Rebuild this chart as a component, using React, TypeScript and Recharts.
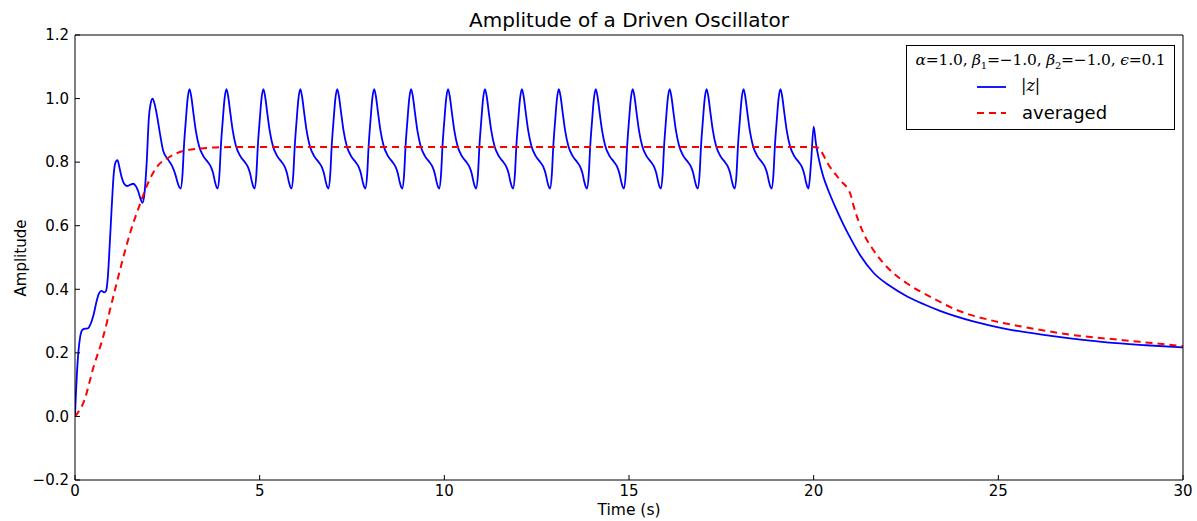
import React from 'react';
import { LineChart, Line, XAxis, YAxis } from 'recharts';

const TITLE = 'Amplitude of a Driven Oscillator';
const X_LABEL = 'Time (s)';
const Y_LABEL = 'Amplitude';
const X_TICKS = [0, 5, 10, 15, 20, 25, 30];
const Y_TICKS = [-0.2, 0, 0.2, 0.4, 0.6, 0.8, 1.0, 1.2];

// |z| : transient start (t, value)
const BLUE_START: [number, number][] = [
  [0, 0], [0.02, 0.06], [0.05, 0.13], [0.09, 0.2], [0.14, 0.25], [0.2, 0.272], [0.27, 0.276], [0.35, 0.277],
  [0.42, 0.29], [0.5, 0.318], [0.58, 0.36], [0.65, 0.387], [0.72, 0.395], [0.79, 0.39], [0.84, 0.395],
  [0.89, 0.44], [0.94, 0.54], [0.99, 0.65], [1.05, 0.765], [1.1, 0.8], [1.15, 0.806], [1.2, 0.785],
  [1.26, 0.754], [1.33, 0.732], [1.41, 0.725], [1.5, 0.729], [1.57, 0.732], [1.64, 0.726], [1.7, 0.712],
  [1.76, 0.69], [1.83, 0.672], [1.88, 0.7], [1.94, 0.796], [2.0, 0.94], [2.05, 0.985], [2.1, 1.0],
  [2.15, 0.985], [2.21, 0.953], [2.3, 0.89], [2.39, 0.835], [2.52, 0.808], [2.64, 0.785], [2.72, 0.76],
  [2.78, 0.735], [2.82, 0.722], [2.86, 0.717], [2.91, 0.76], [2.95, 0.85],
];

// |z| : steady driven oscillation
const BLUE_STEADY: [number, number][] = [
  [3.0, 0.93], [3.05, 1.0], [3.1, 1.03], [3.15, 1.005], [3.2, 0.96], [3.27, 0.9], [3.36, 0.85], [3.48, 0.818], [3.6, 0.8], [3.68, 0.785], [3.74, 0.765], [3.79, 0.738], [3.83, 0.722], [3.86, 0.717], [3.91, 0.76], [3.95, 0.85],
  [4.0, 0.93], [4.05, 1.0], [4.1, 1.03], [4.15, 1.005], [4.2, 0.96], [4.27, 0.9], [4.36, 0.85], [4.48, 0.818], [4.6, 0.8], [4.68, 0.785], [4.74, 0.765], [4.79, 0.738], [4.83, 0.722], [4.86, 0.717], [4.91, 0.76], [4.95, 0.85],
  [5.0, 0.93], [5.05, 1.0], [5.1, 1.03], [5.15, 1.005], [5.2, 0.96], [5.27, 0.9], [5.36, 0.85], [5.48, 0.818], [5.6, 0.8], [5.68, 0.785], [5.74, 0.765], [5.79, 0.738], [5.83, 0.722], [5.86, 0.717], [5.91, 0.76], [5.95, 0.85],
  [6.0, 0.93], [6.05, 1.0], [6.1, 1.03], [6.15, 1.005], [6.2, 0.96], [6.27, 0.9], [6.36, 0.85], [6.48, 0.818], [6.6, 0.8], [6.68, 0.785], [6.74, 0.765], [6.79, 0.738], [6.83, 0.722], [6.86, 0.717], [6.91, 0.76], [6.95, 0.85],
  [7.0, 0.93], [7.05, 1.0], [7.1, 1.03], [7.15, 1.005], [7.2, 0.96], [7.27, 0.9], [7.36, 0.85], [7.48, 0.818], [7.6, 0.8], [7.68, 0.785], [7.74, 0.765], [7.79, 0.738], [7.83, 0.722], [7.86, 0.717], [7.91, 0.76], [7.95, 0.85],
  [8.0, 0.93], [8.05, 1.0], [8.1, 1.03], [8.15, 1.005], [8.2, 0.96], [8.27, 0.9], [8.36, 0.85], [8.48, 0.818], [8.6, 0.8], [8.68, 0.785], [8.74, 0.765], [8.79, 0.738], [8.83, 0.722], [8.86, 0.717], [8.91, 0.76], [8.95, 0.85],
  [9.0, 0.93], [9.05, 1.0], [9.1, 1.03], [9.15, 1.005], [9.2, 0.96], [9.27, 0.9], [9.36, 0.85], [9.48, 0.818], [9.6, 0.8], [9.68, 0.785], [9.74, 0.765], [9.79, 0.738], [9.83, 0.722], [9.86, 0.717], [9.91, 0.76], [9.95, 0.85],
  [10.0, 0.93], [10.05, 1.0], [10.1, 1.03], [10.15, 1.005], [10.2, 0.96], [10.27, 0.9], [10.36, 0.85], [10.48, 0.818], [10.6, 0.8], [10.68, 0.785], [10.74, 0.765], [10.79, 0.738], [10.83, 0.722], [10.86, 0.717], [10.91, 0.76], [10.95, 0.85],
  [11.0, 0.93], [11.05, 1.0], [11.1, 1.03], [11.15, 1.005], [11.2, 0.96], [11.27, 0.9], [11.36, 0.85], [11.48, 0.818], [11.6, 0.8], [11.68, 0.785], [11.74, 0.765], [11.79, 0.738], [11.83, 0.722], [11.86, 0.717], [11.91, 0.76], [11.95, 0.85],
  [12.0, 0.93], [12.05, 1.0], [12.1, 1.03], [12.15, 1.005], [12.2, 0.96], [12.27, 0.9], [12.36, 0.85], [12.48, 0.818], [12.6, 0.8], [12.68, 0.785], [12.74, 0.765], [12.79, 0.738], [12.83, 0.722], [12.86, 0.717], [12.91, 0.76], [12.95, 0.85],
  [13.0, 0.93], [13.05, 1.0], [13.1, 1.03], [13.15, 1.005], [13.2, 0.96], [13.27, 0.9], [13.36, 0.85], [13.48, 0.818], [13.6, 0.8], [13.68, 0.785], [13.74, 0.765], [13.79, 0.738], [13.83, 0.722], [13.86, 0.717], [13.91, 0.76], [13.95, 0.85],
  [14.0, 0.93], [14.05, 1.0], [14.1, 1.03], [14.15, 1.005], [14.2, 0.96], [14.27, 0.9], [14.36, 0.85], [14.48, 0.818], [14.6, 0.8], [14.68, 0.785], [14.74, 0.765], [14.79, 0.738], [14.83, 0.722], [14.86, 0.717], [14.91, 0.76], [14.95, 0.85],
  [15.0, 0.93], [15.05, 1.0], [15.1, 1.03], [15.15, 1.005], [15.2, 0.96], [15.27, 0.9], [15.36, 0.85], [15.48, 0.818], [15.6, 0.8], [15.68, 0.785], [15.74, 0.765], [15.79, 0.738], [15.83, 0.722], [15.86, 0.717], [15.91, 0.76], [15.95, 0.85],
  [16.0, 0.93], [16.05, 1.0], [16.1, 1.03], [16.15, 1.005], [16.2, 0.96], [16.27, 0.9], [16.36, 0.85], [16.48, 0.818], [16.6, 0.8], [16.68, 0.785], [16.74, 0.765], [16.79, 0.738], [16.83, 0.722], [16.86, 0.717], [16.91, 0.76], [16.95, 0.85],
  [17.0, 0.93], [17.05, 1.0], [17.1, 1.03], [17.15, 1.005], [17.2, 0.96], [17.27, 0.9], [17.36, 0.85], [17.48, 0.818], [17.6, 0.8], [17.68, 0.785], [17.74, 0.765], [17.79, 0.738], [17.83, 0.722], [17.86, 0.717], [17.91, 0.76], [17.95, 0.85],
  [18.0, 0.93], [18.05, 1.0], [18.1, 1.03], [18.15, 1.005], [18.2, 0.96], [18.27, 0.9], [18.36, 0.85], [18.48, 0.818], [18.6, 0.8], [18.68, 0.785], [18.74, 0.765], [18.79, 0.738], [18.83, 0.722], [18.86, 0.717], [18.91, 0.76], [18.95, 0.85],
  [19.0, 0.93], [19.05, 1.0], [19.1, 1.03], [19.15, 1.005], [19.2, 0.96], [19.27, 0.9], [19.36, 0.85], [19.48, 0.818], [19.6, 0.8], [19.68, 0.785], [19.74, 0.765], [19.79, 0.738], [19.83, 0.722], [19.86, 0.717],
];

// |z| : drive switched off, decay
const BLUE_DECAY: [number, number][] = [
  [19.93, 0.8], [20.0, 0.912], [20.06, 0.86], [20.13, 0.815], [20.26, 0.755], [20.4, 0.71], [20.6, 0.655],
  [20.8, 0.605], [21.0, 0.56], [21.26, 0.507], [21.62, 0.452], [22.07, 0.41], [22.52, 0.378], [23.0, 0.352],
  [23.42, 0.332], [24.32, 0.299], [25.23, 0.275], [26.58, 0.251], [27.93, 0.233], [29.0, 0.224], [30, 0.217],
];

// averaged amplitude
const RED_AVG: [number, number][] = [
  [0, 0], [0.25, 0.05], [0.5, 0.155], [0.75, 0.245], [1.0, 0.36], [1.25, 0.475], [1.5, 0.58], [1.75, 0.665],
  [2.0, 0.74], [2.25, 0.79], [2.5, 0.812], [2.75, 0.828], [3.0, 0.837], [3.5, 0.844], [4.0, 0.847], [5.0, 0.848],
  [10.0, 0.848], [15.0, 0.848], [20.0, 0.848], [20.1, 0.846], [20.44, 0.785], [20.71, 0.744], [21.0, 0.698],
  [21.08, 0.663], [21.35, 0.576], [21.62, 0.523], [22.07, 0.46], [22.52, 0.419], [23.15, 0.377], [23.87, 0.335],
  [24.78, 0.303], [25.67, 0.282], [27.03, 0.256], [28.38, 0.24], [30, 0.221],
];

const blueData = [...BLUE_START, ...BLUE_STEADY, ...BLUE_DECAY].map(([t, v]) => ({ t, v }));
const redData = RED_AVG.map(([t, v]) => ({ t, v }));

const fmtY = (v: number) => (v < 0 ? '\u2212' + Math.abs(v).toFixed(1) : v.toFixed(1));

const W = 1197;
const H = 521;
const FONT = '"DejaVu Sans", sans-serif';
const SERIF = '"DejaVu Serif", "Liberation Serif", serif';

export default function App() {
  return (
    <div style={{ position: 'absolute', left: 0, top: 0, width: W, height: H, background: '#fff', fontFamily: FONT }}>
      <LineChart width={W} height={H} margin={{ top: 34, right: 13, bottom: 0, left: 0 }}>
        <XAxis
          xAxisId="b" dataKey="t" type="number" domain={[0, 30]} ticks={X_TICKS} allowDataOverflow
          orientation="bottom" height={41} tickSize={-5} tickMargin={10} stroke="#000"
          tick={{ fill: '#000', fontSize: 15, fontFamily: FONT }} interval={0}
        />
        <XAxis
          xAxisId="t" dataKey="t" type="number" domain={[0, 30]} ticks={X_TICKS} allowDataOverflow
          orientation="top" height={1} tickSize={-5} tick={false} stroke="#000" interval={0}
        />
        <YAxis
          yAxisId="l" type="number" domain={[-0.2, 1.2]} ticks={Y_TICKS} allowDataOverflow
          width={75} tickSize={-5} tickMargin={11} stroke="#000" tickFormatter={fmtY}
          tick={{ fill: '#000', fontSize: 15, fontFamily: FONT }} interval={0}
        />
        <YAxis
          yAxisId="r" orientation="right" type="number" domain={[-0.2, 1.2]} ticks={Y_TICKS} allowDataOverflow
          width={1} tickSize={-5} tick={false} stroke="#000" interval={0}
        />
        <Line
          xAxisId="b" yAxisId="l" data={blueData} dataKey="v" type="monotone" stroke="#0000ff"
          strokeWidth={1.8} dot={false} isAnimationActive={false}
        />
        <Line
          xAxisId="b" yAxisId="l" data={redData} dataKey="v" type="monotone" stroke="#ff0000"
          strokeWidth={2} strokeDasharray="7 5" dot={false} isAnimationActive={false}
        />
      </LineChart>

      <div style={{ position: 'absolute', left: 75, width: 1108, top: 8, textAlign: 'center', fontSize: 20, color: '#000' }}>
        {TITLE}
      </div>
      <div style={{ position: 'absolute', left: 75, width: 1108, top: 501, textAlign: 'center', fontSize: 15.5, color: '#000' }}>
        {X_LABEL}
      </div>
      <div
        style={{
          position: 'absolute', left: 21, top: 258, fontSize: 15, color: '#000', whiteSpace: 'nowrap',
          transform: 'translate(-50%, -50%) rotate(-90deg)',
        }}
      >
        {Y_LABEL}
      </div>

      <div
        style={{
          position: 'absolute', left: 906, top: 45, width: 269, height: 85, boxSizing: 'border-box',
          border: '1.5px solid #000', background: '#fff',
        }}
      >
        <div style={{ position: 'absolute', left: 0, width: '100%', top: 5, textAlign: 'center', fontFamily: SERIF, fontSize: 15.5, whiteSpace: 'nowrap', letterSpacing: -0.2 }}>
          <i>α</i>=1.0, <i>β</i><sub style={{ fontSize: 10 }}>1</sub>=−1.0, <i>β</i><sub style={{ fontSize: 10 }}>2</sub>=−1.0, <i>ϵ</i>=0.1
        </div>
        <svg style={{ position: 'absolute', left: 0, top: 0 }} width={269} height={85}>
          <line x1={70} x2={99} y1={41} y2={41} stroke="#0000ff" strokeWidth={1.8} />
          <line x1={70} x2={99} y1={67} y2={67} stroke="#ff0000" strokeWidth={2} strokeDasharray="7 5" />
        </svg>
        <div style={{ position: 'absolute', left: 114, top: 30, fontFamily: SERIF, fontSize: 16 }}>
          |<i>z</i>|
        </div>
        <div style={{ position: 'absolute', left: 115, top: 56, fontSize: 18 }}>averaged</div>
      </div>
    </div>
  );
}
